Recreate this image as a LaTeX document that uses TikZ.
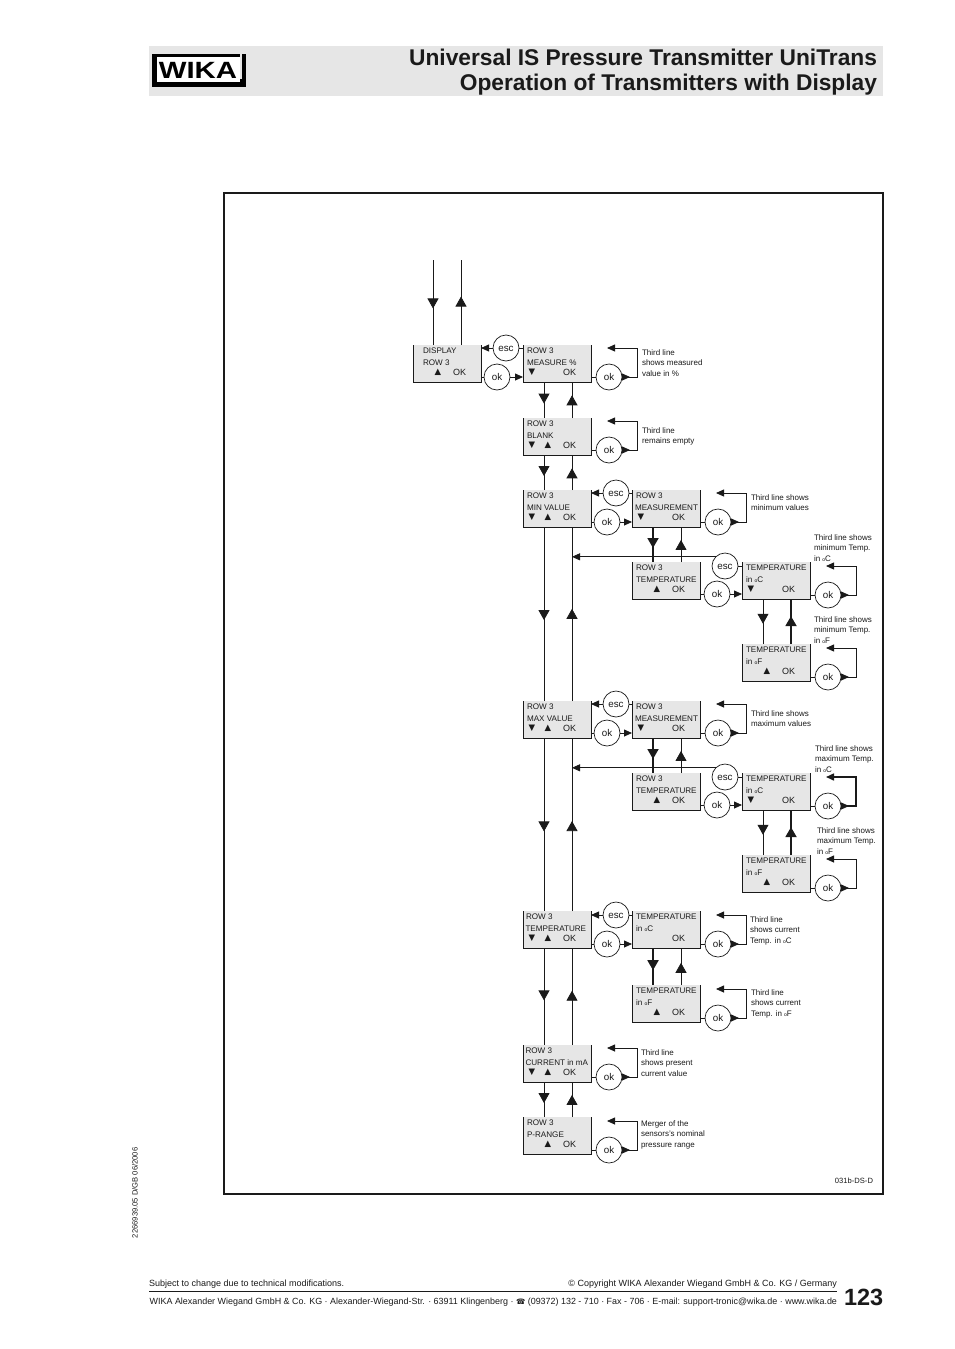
\documentclass[tikz,border=0pt]{standalone}
\usepackage{fontspec}
\usepackage{graphicx}
\setmainfont{Liberation Sans}
\newfontfamily\symf{DejaVu Sans}
\usetikzlibrary{arrows.meta,decorations.markings,calc}
\definecolor{lcdgray}{HTML}{E6E6E6}
\definecolor{inkc}{HTML}{1A1A1A}
\tikzset{
  x=1pt,y=-1pt,
  every node/.style={inner sep=0pt,outer sep=0pt,text=inkc},
  lcdbox/.style={fill=lcdgray,minimum width=68pt,minimum height=37pt,anchor=north west},
  lcdtext/.style={font=\fontsize{8.1}{9}\selectfont,anchor=west},
  lcdok/.style={font=\fontsize{9}{9}\selectfont,anchor=west},
  lcdsym/.style={font=\symf\fontsize{8.5}{9}\selectfont},
  btn/.style={circle,draw=inkc,fill=white,line width=0.7pt,minimum size=26pt,text height=7.2pt,text depth=0pt,font=\fontsize{9.8}{10}\selectfont},
  notetext/.style={font=\fontsize{8}{10.4}\selectfont,anchor=north west,align=left},
  wire/.style={draw=inkc,line width=0.8pt},
  thickwire/.style={draw=inkc,line width=1.8pt},
  smalltip/.tip={Triangle[length=8pt,width=7pt]},
  bigtip/.tip={Triangle[length=10pt,width=11pt]},
  midtip/.style={postaction={decorate,decoration={markings,mark=at position #1 with {\arrow{bigtip}}}}},
  frame/.style={draw=inkc,line width=1.8pt}
}
% \lcd{name}{x}{y}{line1}{line2}{down}{up}  (down/up: 1 to show the symbol)
\newcommand{\lcd}[7]{%
  \node[lcdbox] (#1) at (#2,#3) {};
  \draw[line width=1pt,draw=inkc] (#1.north west) -- (#1.south west) -- (#1.south east) -- (#1.north east);
  \node[lcdtext] (#1a) at ($(#1.north west)+(4,5.5)$) {#4};
  \node[lcdtext] (#1b) at ($(#1.north west)+(4,18)$) {#5};
  \ifnum#6=1 \node[lcdsym] (#1d) at ($(#1.north west)+(9,27.5)$) {▼};\fi
  \ifnum#7=1 \node[lcdsym] (#1u) at ($(#1.north west)+(25,27.5)$) {▲};\fi
  \node[lcdok] (#1k) at ($(#1.north west)+(40,27)$) {OK};
  \coordinate (#1dntop) at ($(#1.north west)+(21,0)$);
  \coordinate (#1dnbot) at ($(#1.south west)+(21,0)$);
  \coordinate (#1uptop) at ($(#1.north west)+(49,0)$);
  \coordinate (#1upbot) at ($(#1.south west)+(49,0)$);
}
% \okb{name}{x}{y}{box on left}
\newcommand{\okb}[4]{%
  \node[btn] (#1) at (#2,#3) {ok};
  \draw[wire] (#1 -| #4.east) -- (#1.west);
}
% arrow from ok button into the next box
\newcommand{\okto}[2]{\draw[wire,-smalltip] (#1.east) -- (#1 -| #2.west);}
% self-loop of an ok button
\newcommand{\okloop}[2][line width=0.8pt]{%
  \draw[wire,-smalltip] (#2.east) -- ++(8,0);
  \draw[wire,#1,-smalltip] (#2.east) -- ++(15,0) -- ++(0,-29) -- ++(-30,0);
}
% \esc{name}{x}{y}{left box}{right box}
\newcommand{\escb}[5]{%
  \node[btn] (#1) at (#2,#3) {esc};
  \draw[wire,-smalltip] (#1.west) -- (#1 -| #4.east);
  \draw[wire] (#1.east) -- (#1 -| #5.west);
}
\newcommand{\note}[4]{\node[notetext] (#1) at (#2,#3-3.5) {#4};}
\newcommand{\dg}{{\fontsize{5}{5}\selectfont o}}
\begin{document}
\begin{tikzpicture}
\useasboundingbox (0,0) rectangle (954,1349);
\fill[white] (0,0) rectangle (954,1349);
% header
\node[fill=lcdgray,minimum width=734pt,minimum height=50pt,anchor=north west] (head) at (149,46) {};
\node[anchor=base east,font=\bfseries\fontsize{22.75}{24}\selectfont] (t1) at (877,65) {Universal IS Pressure Transmitter UniTrans};
\node[anchor=base east,font=\bfseries\fontsize{22.75}{24}\selectfont] (t2) at (877,90) {Operation of Transmitters with Display};
% logo
\fill[black] (152,54) rectangle (246,87);
\fill[white] (157,57) rectangle (240,82);
\fill[lcdgray] (240,54) rectangle (242,79);
\node[anchor=base,font=\bfseries\fontsize{23.5}{24}\selectfont,text=black] (wika) at (198,78.5) {\scalebox{1.25}[1]{WIKA}};
% frame
\node[frame,minimum width=659pt,minimum height=1001pt,anchor=north west] (frm) at (224,193) {};
% boxes
\lcd{disp}{413}{345}{\hspace{6pt}DISPLAY}{\hspace{6pt}ROW 3}{0}{0}
\node[lcdsym] (dispup) at (438,372.5) {▲};
\lcd{meas}{523}{345}{ROW 3}{MEASURE \%}{1}{0}
\lcd{blank}{523}{418}{ROW 3}{BLANK}{1}{1}
\lcd{min}{523}{490}{ROW 3}{MIN VALUE}{1}{1}
\lcd{mm}{632}{490}{ROW 3}{\hspace{-1pt}MEASUREMENT}{1}{0}
\lcd{mt}{632}{562}{ROW 3}{TEMPERATURE}{0}{1}
\lcd{mc}{742}{562}{TEMPERATURE}{in \dg C}{1}{0}
\lcd{mf}{742}{644}{TEMPERATURE}{in \dg F}{0}{1}
\lcd{max}{523}{701}{ROW 3}{MAX VALUE}{1}{1}
\lcd{xm}{632}{701}{ROW 3}{\hspace{-1pt}MEASUREMENT}{1}{0}
\lcd{xt}{632}{773}{ROW 3}{TEMPERATURE}{0}{1}
\lcd{xc}{742}{773}{TEMPERATURE}{in \dg C}{1}{0}
\lcd{xf}{742}{855}{TEMPERATURE}{in \dg F}{0}{1}
\lcd{tmp}{523}{911}{\hspace{-1pt}ROW 3}{\hspace{-1.5pt}TEMPERATURE}{1}{1}
\lcd{tc}{632}{911}{TEMPERATURE}{in \dg C}{0}{0}
\lcd{tf}{632}{985}{TEMPERATURE}{in \dg F}{0}{1}
\lcd{cur}{523}{1045}{\hspace{-1.5pt}ROW 3}{\hspace{-1.5pt}CURRENT in mA}{1}{1}
\lcd{rng}{523}{1117}{ROW 3}{P-RANGE}{0}{1}
% top connectors
\coordinate (topdn) at (433,260);
\coordinate (topup) at (461,260);
\draw[wire,midtip=0.57] (topdn) -- (topdn |- disp.north);
\draw[wire,midtip=0.57] (disp.north -| topup) -- (topup);
% vertical connectors
\newcommand{\vdown}[3]{\draw[wire,midtip=#3] (#1dnbot) -- (#2dntop);}
\newcommand{\vup}[3]{\draw[wire,midtip=#3] (#2uptop) -- (#1upbot);}
\vdown{meas}{blank}{0.6}\vup{meas}{blank}{0.63}
\vdown{blank}{min}{0.6}\vup{blank}{min}{0.62}
\vdown{min}{max}{0.535}\vup{min}{max}{0.53}
\vdown{max}{tmp}{0.54}\vup{max}{tmp}{0.52}
\vdown{tmp}{cur}{0.54}\vup{tmp}{cur}{0.56}
\vdown{cur}{rng}{0.6}\vup{cur}{rng}{0.63}
\draw[thickwire,midtip=0.6] (mmdnbot) -- (mtdntop);
\draw[wire,midtip=0.63] (mtuptop) -- (mmupbot);
\draw[wire,midtip=0.55] (mcdnbot) -- (mfdntop);
\draw[thickwire,midtip=0.62] (mfuptop) -- (mcupbot);
\draw[thickwire,midtip=0.6] (xmdnbot) -- (xtdntop);
\draw[wire,midtip=0.63] (xtuptop) -- (xmupbot);
\draw[wire,midtip=0.55] (xcdnbot) -- (xfdntop);
\draw[thickwire,midtip=0.62] (xfuptop) -- (xcupbot);
\draw[thickwire,midtip=0.6] (tcdnbot) -- (tfdntop);
\draw[wire,midtip=0.6] (tfuptop) -- (tcupbot);
% esc buttons
\escb{e1}{506}{348}{disp}{meas}
\escb{e2}{616}{493}{min}{mm}
\escb{e4}{616}{704}{max}{xm}
\escb{e6}{616}{915}{tmp}{tc}
\node[btn] (e3) at (725,566) {esc};
\node[btn] (e5) at (725,777) {esc};
\draw[wire] (e3.east) -- (e3 -| mc.west);
\draw[wire] (e5.east) -- (e5 -| xc.west);
\draw[wire,-smalltip] (e3.135) -- (e3.135 -| minuptop);
\draw[wire,-smalltip] (e5.135) -- (e5.135 -| maxuptop);
% ok buttons
\okb{o1}{497}{377}{disp}\okto{o1}{meas}
\okb{o2}{609}{377}{meas}\okloop{o2}
\okb{o3}{609}{450}{blank}\okloop{o3}
\okb{o4}{607}{522}{min}\okto{o4}{mm}
\okb{o5}{718}{522}{mm}\okloop{o5}
\okb{o6}{717}{594}{mt}\okto{o6}{mc}
\okb{o7}{828}{595}{mc}\okloop{o7}
\okb{o8}{828}{677}{mf}\okloop{o8}
\okb{o9}{607}{733}{max}\okto{o9}{xm}
\okb{o10}{718}{733}{xm}\okloop{o10}
\okb{o11}{717}{805}{xt}\okto{o11}{xc}
\okb{o12}{828}{806}{xc}\okloop[line width=1.5pt]{o12}
\okb{o13}{828}{888}{xf}\okloop{o13}
\okb{o14}{607}{944}{tmp}\okto{o14}{tc}
\okb{o15}{718}{944}{tc}\okloop{o15}
\okb{o16}{718}{1018}{tf}\okloop{o16}
\okb{o17}{609}{1077}{cur}\okloop{o17}
\okb{o18}{609}{1150}{rng}\okloop{o18}
% notes
\note{n1}{642}{353}{Third line\\shows measured\\value in \%}
\note{n2}{642}{431}{Third line\\remains empty}
\note{n3}{751}{498}{Third line shows\\minimum values}
\note{n4}{814}{538}{Third line shows\\minimum Temp.\\in \dg C}
\note{n5}{814}{620}{Third line shows\\minimum Temp.\\in \dg F}
\note{n6}{751}{714}{Third line shows\\maximum values}
\note{n7}{815}{749}{Third line shows\\maximum Temp.\\in \dg C}
\note{n8}{817}{831}{Third line shows\\maximum Temp.\\in \dg F}
\note{n9}{750}{920}{Third line\\shows current\\Temp. in \dg C}
\note{n10}{751}{993}{Third line\\shows current\\Temp. in \dg F}
\note{n11}{641}{1053}{Third line\\shows present\\current value}
\note{n12}{641}{1124}{Merger of the\\sensors's nominal\\pressure range}
\node[anchor=east,font=\fontsize{7.6}{9}\selectfont] (code) at (873,1181) {031b-DS-D};
% margin + footer
\node[rotate=90,anchor=west,font=\fontsize{7.6}{9}\selectfont] (doc) at (135,1238) {2266939.05 D/GB 06/2006};
\node[anchor=base west,font=\fontsize{9}{10}\selectfont] (f1) at (149,1286) {Subject to change due to technical modifications.};
\node[anchor=base east,font=\fontsize{9}{10}\selectfont] (f2) at (837,1286) {© Copyright WIKA Alexander Wiegand GmbH \& Co. KG / Germany};
\coordinate (ruleL) at (149,1291);
\coordinate (ruleR) at (837,1291);
\draw[inkc,line width=0.8pt] (ruleL) -- (ruleR);
\node[anchor=base east,font=\fontsize{8.93}{10}\selectfont] (f3) at (837,1304) {WIKA Alexander Wiegand GmbH \& Co. KG · Alexander-Wiegand-Str. · 63911 Klingenberg · {\symf\fontsize{7.5}{9}\selectfont ☎} (09372) 132 - 710 · Fax - 706 · E-mail: support-tronic@wika.de · www.wika.de};
\node[anchor=base west,font=\bfseries\fontsize{23.5}{26}\selectfont] (pg) at (844,1305) {123};
\end{tikzpicture}
\end{document}
